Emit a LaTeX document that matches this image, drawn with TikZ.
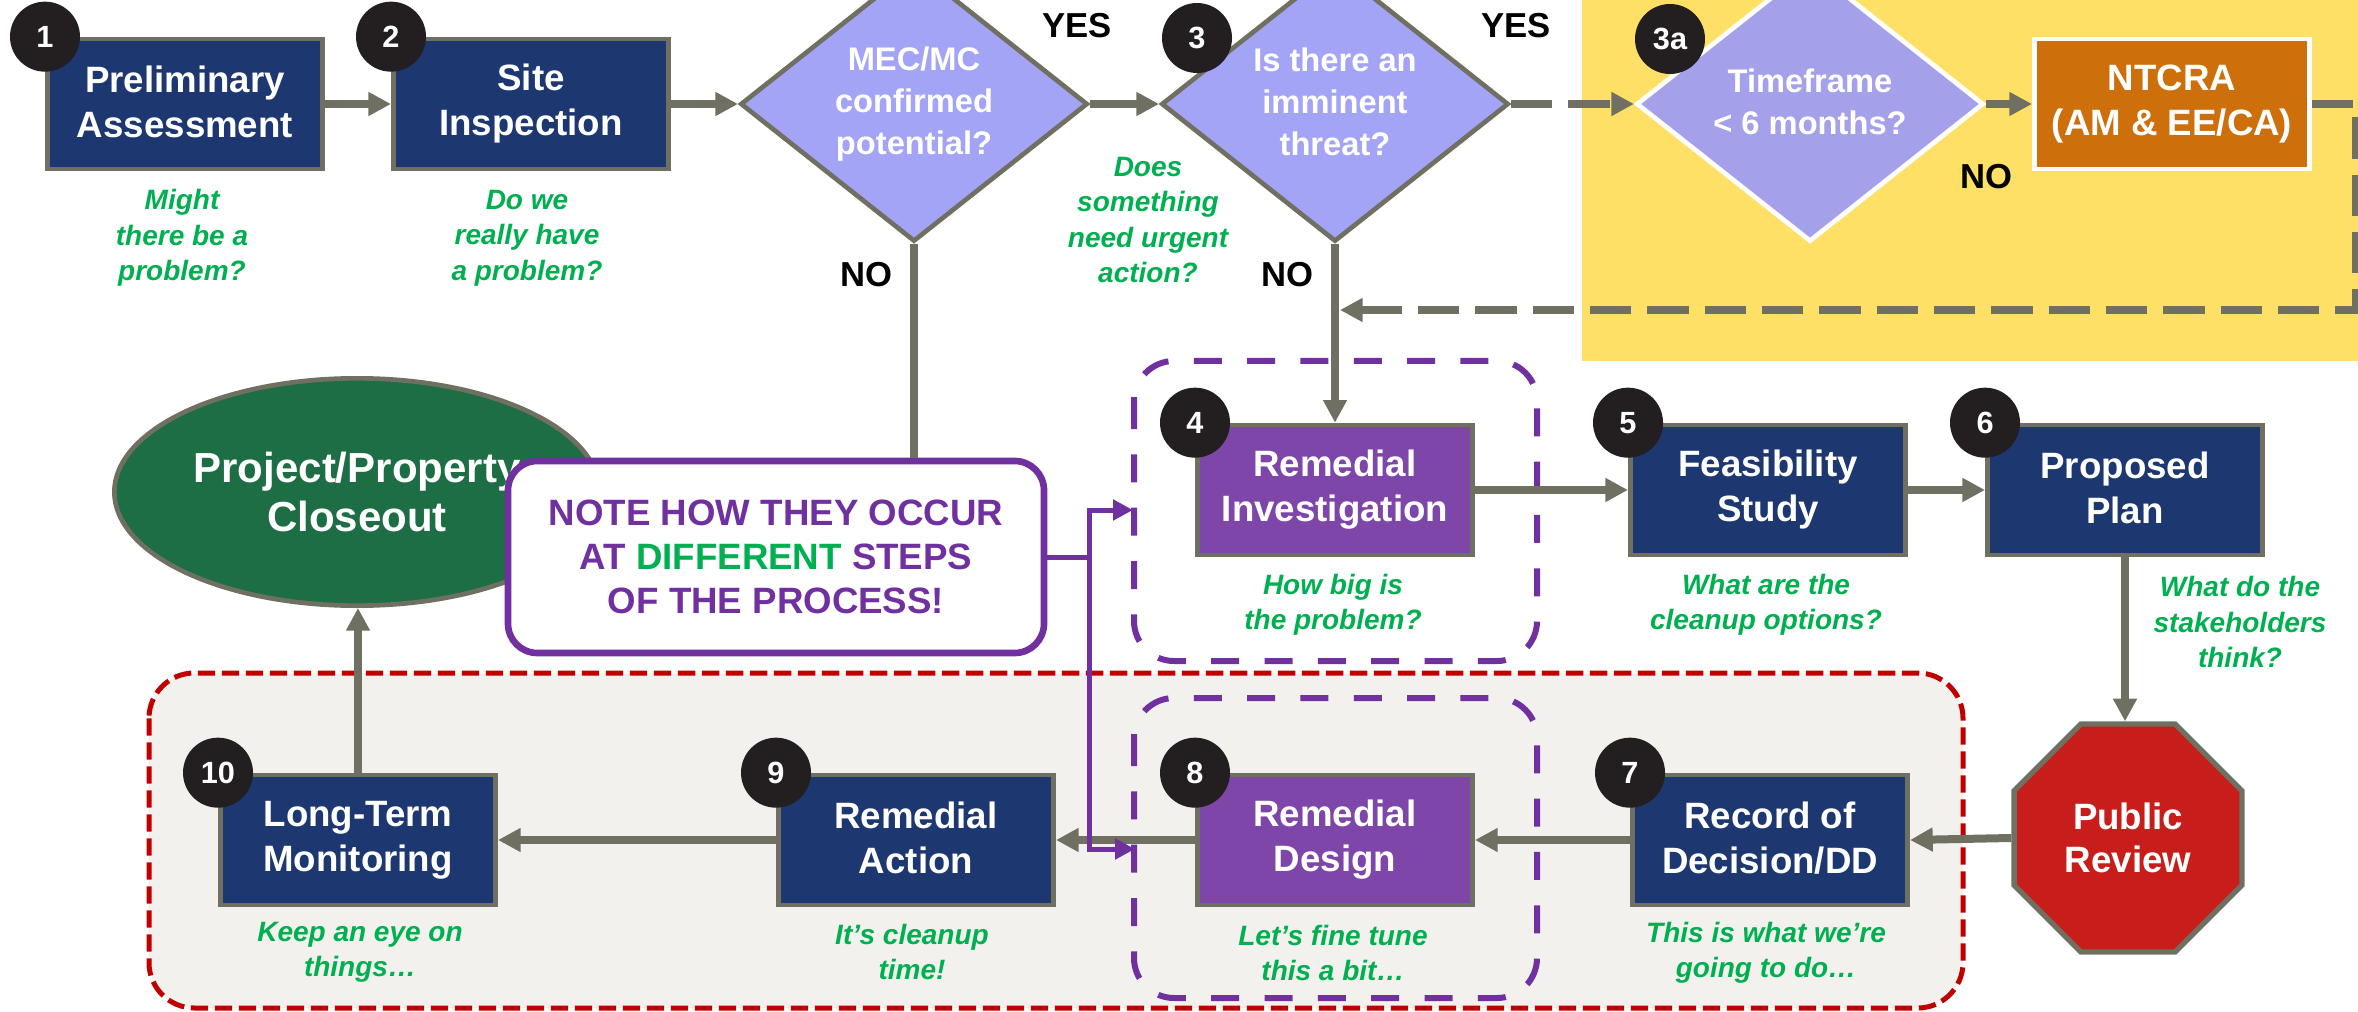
\documentclass[tikz,border=0pt]{standalone}
\usepackage{fontspec}
\setmainfont{Liberation Sans}
\usetikzlibrary{shapes.geometric,arrows.meta}

\definecolor{boxblue}{HTML}{1D3770}
\definecolor{ripurple}{HTML}{7E46A8}
\definecolor{linegray}{HTML}{6F7061}
\definecolor{dotblack}{HTML}{231F20}
\definecolor{lavender}{HTML}{A4A4F6}
\definecolor{lavendertwo}{HTML}{A5A0EA}
\definecolor{hintgreen}{HTML}{00B050}
\definecolor{zonegold}{HTML}{FFE066}
\definecolor{zonegray}{HTML}{F2F1EE}
\definecolor{zonered}{HTML}{C00000}
\definecolor{notepurple}{HTML}{7030A0}
\definecolor{ntcraorange}{HTML}{CD6F0B}
\definecolor{closegreen}{HTML}{1D6D45}
\definecolor{reviewred}{HTML}{C71E1C}

\newcommand{\lnstrut}{\rule[-0.12em]{0pt}{1.07em}}

\tikzset{every picture/.style={line width=0.75pt}}
\tikzset{
  stepbox/.style={draw=linegray, line width=3.5pt, fill=boxblue, text=white, minimum width=206.5pt, minimum height=97.5pt, inner sep=0pt, align=center, font=\fontsize{27.5}{33.75}\selectfont\bfseries, execute at begin node=\lnstrut, execute at end node=\lnstrut},
  ribox/.style={stepbox, fill=ripurple},
  numdot/.style={circle, fill=dotblack, text=white, minimum size=52.5pt, inner sep=0pt, font=\fontsize{23}{24}\selectfont\bfseries},
  query/.style={diamond, draw=linegray, line width=3.5pt, fill=lavender, text=white, aspect=1.26, minimum width=260.5pt, minimum height=206.5pt, inner sep=0pt, align=center, font=\fontsize{24.5}{31.5}\selectfont\bfseries, execute at begin node=\lnstrut, execute at end node=\lnstrut},
  hint/.style={text=hintgreen, align=center, inner sep=0pt, font=\fontsize{21}{26.5}\selectfont\bfseries\itshape},
  answer/.style={text=black, inner sep=0pt, font=\fontsize{26}{28}\selectfont\bfseries},
  flow/.style={draw=linegray, line width=6pt, -{Triangle[length=17pt,width=17pt]}},
  flowdash/.style={flow, dash pattern=on 31pt off 12pt},
  noteflow/.style={draw=notepurple, line width=3.75pt, -{Triangle[length=15pt,width=15pt]}},
  pickdash/.style={draw=notepurple, line width=4.5pt, dash pattern=on 21pt off 19pt, rounded corners=30pt},
}

\begin{document}
\begin{tikzpicture}[x=0.75pt,y=0.75pt,yscale=-1,xscale=1]
	\useasboundingbox (0,0) rectangle (2358,1012);
	
	%Shape: Rectangle (removal action zone)
	\fill [zonegold] (1582,0) rectangle (2358,361);
	%Shape: Rounded Rectangle (remedy zone)
	\draw [draw=zonered, fill=zonegray, line width=3.75pt, dash pattern=on 13pt off 5pt, rounded corners=34pt] (149,673) rectangle (1963,1008);
	%Shape: Rounded Rectangle
	\draw [pickdash] (1134,361) rectangle (1537,661);
	%Shape: Rounded Rectangle
	\draw [pickdash] (1134,698) rectangle (1537,998);
	
	%Shape: Rectangle
	\node (b1) [stepbox] at (185,104) {Preliminary\\Assessment};
	\node (b2) [stepbox] at (531,104) {Site\\Inspection};
	%Shape: Diamond
	\node (d1) [query] at (914,104) {MEC/MC\\confirmed\\potential?};
	\node (d2) [query, execute at begin node=\rule{0pt}{1.5em}] at (1335,104) {Is there an\\imminent\\threat?};
	\node (d3) [query, draw=white, fill=lavendertwo] at (1810,104) {Timeframe\\< 6 months?};
	%Shape: Rectangle
	\node (nt) [stepbox, draw=white, fill=ntcraorange] at (2172,104) {NTCRA\\(AM \& EE/CA)};
	
	\node (b4) [ribox] at (1335,490) {Remedial\\Investigation};
	\node (b5) [stepbox] at (1768,490) {Feasibility\\Study};
	\node (b6) [stepbox] at (2125,490) {Proposed\\Plan};
	%Shape: Octagon
	\node (pr) [regular polygon, regular polygon sides=8, draw=linegray, line width=4pt, fill=reviewred, text=white, minimum size=185pt, inner sep=0pt, align=center, font=\fontsize{27.5}{32}\selectfont\bfseries] at (2128,838) {Public\\Review};
	\node (b7) [stepbox] at (1770,840) {Record of\\Decision/DD};
	\node (b8) [ribox] at (1335,840) {Remedial\\Design};
	\node (b9) [stepbox] at (916,840) {Remedial\\Action};
	\node (b10) [stepbox] at (358,840) {Long-Term\\Monitoring};
	%Shape: Ellipse
	\node (ce) [ellipse, draw=linegray, line width=3.5pt, fill=closegreen, text=white, minimum width=364pt, minimum height=170.5pt, inner sep=0pt, align=center, font=\fontsize{31.5}{37}\selectfont\bfseries] at (357,492) {Project/Property\\Closeout};
	
	%Shape: Circle
	\node (n1) [numdot] at (b1.north west) {1};
	\node (n2) [numdot] at (b2.north west) {2};
	\node (n3) [numdot] at (1197,38) {3};
	\node (n3a) [numdot] at (1670,39) {3a};
	\node (n4) [numdot] at (b4.north west) {4};
	\node (n5) [numdot] at (b5.north west) {5};
	\node (n6) [numdot] at (b6.north west) {6};
	\node (n7) [numdot] at (b7.north west) {7};
	\node (n8) [numdot] at (b8.north west) {8};
	\node (n9) [numdot] at (b9.north west) {9};
	\node (n10) [numdot] at (b10.north west) {10};
	
	%Straight Lines
	\draw [flow] (b1.east) -- (b2.west);
	\draw [flow] (b2.east) -- (d1.west);
	\draw [flow] (d1.east) -- (d2.west);
	\draw [flowdash] (d2.east) -- (d3.west);
	\draw [flow] (d3.east) -- (nt.west);
	\coordinate (ret) at (1340,310);
	\draw [flowdash] (nt.east) -- (2356,104) -- (2356,310) -- (ret);
	\draw [flow] (d2.south) -- (b4.north);
	\draw [flow] (b4.east) -- (b5.west);
	\draw [flow] (b5.east) -- (b6.west);
	\draw [flow] (b6.south) -- (b6.south |- pr.north);
	\draw [flow] (pr.west) -- (b7.east);
	\draw [flow] (b7.west) -- (b8.east);
	\draw [flow] (b8.west) -- (b9.east);
	\draw [flow] (b9.west) -- (b10.east);
	\draw [flow] (b10.north) -- (b10.north |- ce.south);
	
	%Shape: Rounded Rectangle (note)
	\node (note) [draw=notepurple, fill=white, line width=5pt, rounded corners=22pt, minimum width=402pt, minimum height=144pt, inner sep=0pt, text=notepurple, align=center, font=\fontsize{27.5}{33}\selectfont\bfseries] at (776,557) {NOTE HOW THEY OCCUR\\AT {\color{hintgreen}DIFFERENT} STEPS\\OF THE PROCESS!};
	\draw [draw=linegray, line width=6pt] (d1.south) -- (d1.south |- note.north);
	\coordinate (na) at (1133,510);
	\coordinate (nb) at (1135,849);
	\draw [noteflow] (note.east) -- ++(42,0) |- (na);
	\draw [noteflow] (note.east) -- ++(42,0) |- (nb);
	
	% Text Node
	\draw (1077,26) node (yes1) [answer] {YES};
	% Text Node
	\draw (1516,26) node (yes2) [answer] {YES};
	% Text Node
	\draw (866,275) node (no1) [answer] {NO};
	% Text Node
	\draw (1287,275) node (no2) [answer] {NO};
	% Text Node
	\draw (1986,177) node (no3) [answer] {NO};
	
	% Text Node
	\draw (182,238) node (t1) [hint] {Might\\there be a\\problem?};
	% Text Node
	\draw (527,238) node (t2) [hint] {Do we\\really have\\a problem?};
	% Text Node
	\draw (1148,220) node (t3) [hint] {Does\\something\\need urgent\\action?};
	% Text Node
	\draw (1333,605) node (t4) [hint] {How big is\\the problem?};
	% Text Node
	\draw (1766,605) node (t5) [hint] {What are the\\cleanup options?};
	% Text Node
	\draw (2240,622) node (t6) [hint] {What do the\\stakeholders\\think?};
	% Text Node
	\draw (1766,953) node (t7) [hint] {This is what we’re\\going to do…};
	% Text Node
	\draw (1333,953) node (t8) [hint] {Let’s fine tune\\this a bit…};
	% Text Node
	\draw (912,952) node (t9) [hint] {It’s cleanup\\time!};
	% Text Node
	\draw (360,952) node (t10) [hint] {Keep an eye on\\things…};
	
\end{tikzpicture}
\end{document}
